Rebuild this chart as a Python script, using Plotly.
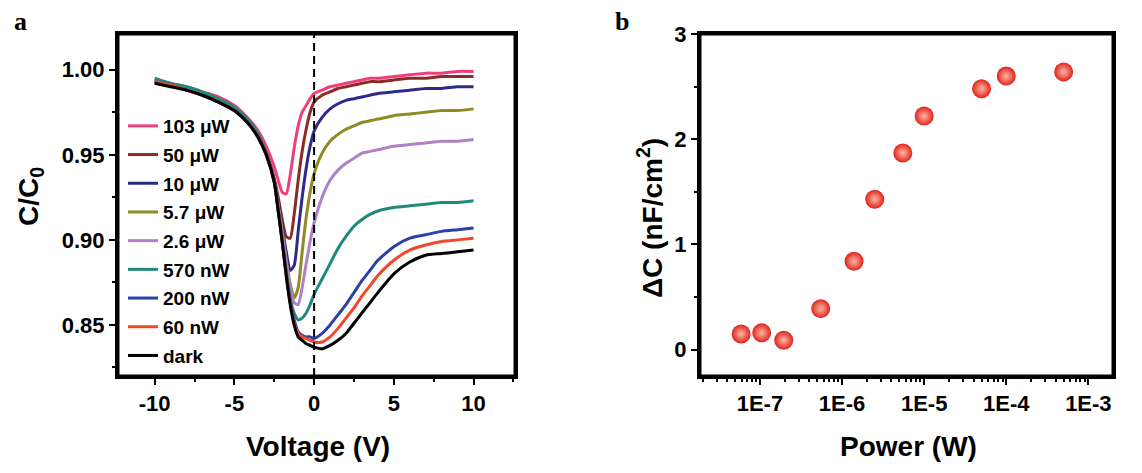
import plotly.graph_objects as go

# ---------------- data: panel a ----------------
voltage = [-10, -9, -8, -7, -6, -5, -4.5, -4, -3.5, -3, -2.5, -2.25, -2, -1.75, -1.5,
           -1.25, -1, -0.75, -0.5, -0.25, 0, 0.5, 1, 1.5, 2, 2.5, 3, 3.5, 4, 5, 6, 7,
           8, 9, 10]

c_103uW = [0.994, 0.992, 0.990, 0.987, 0.984, 0.979, 0.975, 0.970, 0.964, 0.955, 0.943,
           0.935, 0.928, 0.927, 0.938, 0.954, 0.967, 0.975, 0.979, 0.983, 0.986, 0.988,
           0.990, 0.991, 0.992, 0.993, 0.994, 0.995, 0.995, 0.996, 0.997, 0.998, 0.998,
           0.999, 0.999]
c_50uW = [0.993, 0.991, 0.989, 0.986, 0.982, 0.977, 0.973, 0.968, 0.961, 0.951, 0.936,
          0.925, 0.912, 0.902, 0.901, 0.915, 0.935, 0.952, 0.965, 0.975, 0.981, 0.985,
          0.987, 0.989, 0.990, 0.991, 0.992, 0.993, 0.993, 0.994, 0.995, 0.995, 0.996,
          0.996, 0.996]
c_10uW = [0.993, 0.991, 0.988, 0.985, 0.981, 0.976, 0.972, 0.967, 0.960, 0.950, 0.935,
          0.922, 0.908, 0.893, 0.882, 0.885, 0.905, 0.925, 0.942, 0.955, 0.964, 0.972,
          0.977, 0.980, 0.982, 0.983, 0.984, 0.985, 0.986, 0.987, 0.988, 0.989, 0.989,
          0.990, 0.990]
c_5_7uW = [0.993, 0.991, 0.989, 0.986, 0.982, 0.977, 0.973, 0.968, 0.961, 0.950, 0.934,
           0.920, 0.905, 0.888, 0.874, 0.866, 0.872, 0.893, 0.913, 0.928, 0.939, 0.951,
           0.958, 0.962, 0.965, 0.967, 0.969, 0.970, 0.971, 0.973, 0.974, 0.975, 0.976,
           0.976, 0.977]
c_2_6uW = [0.993, 0.991, 0.989, 0.986, 0.982, 0.977, 0.973, 0.968, 0.961, 0.950, 0.934,
           0.920, 0.904, 0.887, 0.872, 0.863, 0.862, 0.872, 0.886, 0.899, 0.910, 0.925,
           0.935, 0.941, 0.945, 0.948, 0.951, 0.952, 0.953, 0.955, 0.956, 0.957, 0.958,
           0.958, 0.959]
c_570nW = [0.995, 0.992, 0.990, 0.987, 0.983, 0.978, 0.974, 0.969, 0.962, 0.951, 0.934,
           0.918, 0.900, 0.882, 0.866, 0.857, 0.853, 0.854, 0.857, 0.862, 0.868, 0.877,
           0.886, 0.895, 0.902, 0.908, 0.912, 0.915, 0.917, 0.919, 0.920, 0.921, 0.922,
           0.922, 0.923]
c_200nW = [0.993, 0.991, 0.988, 0.985, 0.981, 0.976, 0.972, 0.967, 0.960, 0.950, 0.934,
           0.917, 0.899, 0.880, 0.864, 0.853, 0.846, 0.844, 0.843, 0.843, 0.842, 0.845,
           0.850, 0.856, 0.862, 0.869, 0.876, 0.882, 0.888, 0.896, 0.901, 0.903, 0.905,
           0.906, 0.907]
c_60nW = [0.993, 0.991, 0.988, 0.985, 0.981, 0.976, 0.972, 0.967, 0.960, 0.950, 0.934,
          0.917, 0.899, 0.879, 0.863, 0.851, 0.845, 0.843, 0.842, 0.841, 0.840, 0.840,
          0.843, 0.848, 0.854, 0.860, 0.867, 0.873, 0.879, 0.888, 0.894, 0.897, 0.899,
          0.900, 0.901]
c_dark = [0.992, 0.990, 0.988, 0.985, 0.981, 0.976, 0.972, 0.967, 0.960, 0.950, 0.934,
          0.917, 0.899, 0.879, 0.862, 0.850, 0.843, 0.841, 0.839, 0.838, 0.837, 0.836,
          0.838, 0.841, 0.845, 0.851, 0.857, 0.863, 0.869, 0.880, 0.887, 0.891, 0.892,
          0.893, 0.894]

series_names = ["103 \u03bcW", "50 \u03bcW", "10 \u03bcW", "5.7 \u03bcW", "2.6 \u03bcW",
                "570 nW", "200 nW", "60 nW", "dark"]
series_values = [c_103uW, c_50uW, c_10uW, c_5_7uW, c_2_6uW, c_570nW, c_200nW, c_60nW, c_dark]
series_colors = ["#f23d7c", "#8c2a25", "#2f2a8a", "#8f8a22", "#b080c8",
                 "#1f8a7c", "#2c40a6", "#f2482a", "#000000"]

v_tickvals = [-10, -5, 0, 5, 10]
v_ticktext = ["-10", "-5", "0", "5", "10"]
c_tickvals = [0.85, 0.90, 0.95, 1.00]
c_ticktext = ["0.85", "0.90", "0.95", "1.00"]

# ---------------- data: panel b ----------------
power_w = [5.9e-8, 1.05e-7, 1.95e-7, 5.5e-7, 1.4e-6, 2.5e-6, 5.5e-6, 1.0e-5,
           5.0e-5, 1.0e-4, 5.0e-4]
delta_c = [0.15, 0.16, 0.09, 0.39, 0.84, 1.43, 1.87, 2.22, 2.48, 2.60, 2.64]

x_tickvals = [1e-7, 1e-6, 1e-5, 1e-4, 1e-3]
x_ticktext = ["1E-7", "1E-6", "1E-5", "1E-4", "1E-3"]
minor_log = [m * 10.0 ** e for e in range(-8, -2) for m in range(2, 10)]

FONT = "Arial, Liberation Sans, sans-serif"
SERIF = "Times New Roman, Liberation Serif, serif"

# page geometry (the page body adds an 8 px offset)
W, H = 1134, 465
ML, MR, MT, MB = 110, 29, 26, 97
PW, PH = W - ML - MR, H - MT - MB


def px(wx):
    return (wx - 8 - ML) / PW


def py(wy):
    return (H - MB - (wy - 8)) / PH


fig = go.Figure()

for name, vals, col in zip(series_names, series_values, series_colors):
    fig.add_trace(go.Scatter(
        x=voltage, y=vals, mode="lines", name=name, legendgroup=name,
        line=dict(color=col, width=3, shape="spline", smoothing=0.6),
        xaxis="x", yaxis="y"))

fig.add_trace(go.Scatter(
    x=power_w, y=delta_c, mode="markers", showlegend=False,
    marker=dict(size=19, color="#e0231a",
                gradient=dict(type="radial", color="#ffb8a8"),
                line=dict(width=0)),
    xaxis="x2", yaxis="y2"))

# dashed reference line at V = 0
fig.add_shape(type="line", xref="x", yref="y domain", x0=0, x1=0, y0=0, y1=1,
              line=dict(color="black", width=2, dash="8px,5px"))
# frames (paper-referenced rectangles around each plot area)
left_end = (515 - 118) / 995
right_start = (700 - 118) / 995
for x0, x1 in ((0, left_end), (right_start, 1)):
    fig.add_shape(type="rect", xref="paper", yref="paper", x0=x0, x1=x1, y0=0, y1=1,
                  line=dict(color="black", width=3), layer="above")

axis_common = dict(showline=True, linecolor="black", linewidth=3, mirror=True,
                   ticks="outside", ticklen=6, tickwidth=2, tickcolor="black",
                   showgrid=False, zeroline=False, automargin=False,
                   tickfont=dict(family=FONT, size=22, color="black", weight="bold"))

fig.update_layout(
    width=W, height=H,
    margin=dict(l=ML, r=MR, t=MT, b=MB, autoexpand=False),
    paper_bgcolor="white", plot_bgcolor="white",
    showlegend=True,
    legend=dict(x=px(123), y=py(107), xanchor="left", yanchor="top",
                bgcolor="rgba(0,0,0,0)", tracegroupgap=1,
                font=dict(family=FONT, size=19, color="black", weight="bold"),
                itemwidth=30),
    xaxis=dict(domain=[0, left_end], range=[-12.3, 12.6],
               tickvals=v_tickvals, ticktext=v_ticktext,
               minor=dict(ticks="outside", ticklen=3, tickwidth=2, dtick=2.5,
                          tick0=0, tickcolor="black"),
               anchor="y", **axis_common),
    yaxis=dict(domain=[0, 1], range=[0.82, 1.021],
               tickvals=c_tickvals, ticktext=c_ticktext,
               minor=dict(ticks="outside", ticklen=3, tickwidth=2, dtick=0.025,
                          tick0=0.85, tickcolor="black"),
               anchor="x", **axis_common),
    xaxis2=dict(domain=[right_start, 1], type="log", range=[-7.73, -2.70],
                tickvals=x_tickvals, ticktext=x_ticktext,
                minor=dict(ticks="outside", ticklen=3, tickwidth=2, tickvals=minor_log,
                           tickcolor="black"),
                anchor="y2", **axis_common),
    yaxis2=dict(domain=[0, 1], range=[-0.25, 3.0],
                tickvals=[0, 1, 2, 3],
                minor=dict(ticks="outside", ticklen=3, tickwidth=2, dtick=0.5,
                           tick0=0, tickcolor="black"),
                anchor="x2", **axis_common),
)

title_font = dict(family=FONT, size=28, color="black", weight="bold")
annos = [
    dict(text="Voltage (V)", x=px(318), y=py(446), textangle=0, font=title_font),
    dict(text="Power (W)", x=px(908), y=py(446), textangle=0, font=title_font),
    dict(text="C/C<sub>0</sub>", x=px(30), y=py(197), textangle=-90, font=title_font),
    dict(text="\u0394C (nF/cm<sup>2</sup>)", x=px(650), y=py(218), textangle=-90,
         font=title_font),
    dict(text="<b>a</b>", x=px(20), y=py(22), textangle=0,
         font=dict(family=SERIF, size=26, color="black")),
    dict(text="<b>b</b>", x=px(622), y=py(22), textangle=0,
         font=dict(family=SERIF, size=26, color="black")),
]
for a in annos:
    fig.add_annotation(xref="paper", yref="paper", showarrow=False,
                       xanchor="center", yanchor="middle", **a)

fig.write_html("out.html")
